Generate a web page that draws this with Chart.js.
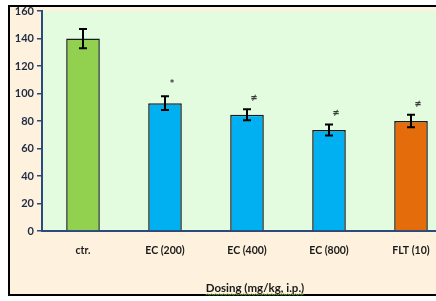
<!DOCTYPE html>
<html><head><meta charset="utf-8">
<script src="https://cdn.jsdelivr.net/npm/chart.js@4/dist/chart.umd.min.js"></script>
<style>html,body{margin:0;padding:0;background:#fff;overflow:hidden;width:436px;height:301px}
#wrap{position:absolute;left:0;top:0;width:460px;height:301px}</style>
</head><body>
<div id="wrap"><canvas id="c" width="460" height="301"></canvas></div>
<script>
const categories = ['ctr.', 'EC (200)', 'EC (400)', 'EC (800)', 'FLT (10)'];
const values = [140, 93, 84.5, 73.5, 80];
const errors = [7, 5, 4, 4, 4.5];
const marks = ['', '*', '≠', '≠', '≠'];
const colors = ['#92D050', '#00B0F0', '#00B0F0', '#00B0F0', '#E46C0A'];
const yTicks = [0, 20, 40, 60, 80, 100, 120, 140, 160];
const xTitle = 'Dosing (mg/kg, i.p.)';

const FONT = 'Lato, "Liberation Sans", sans-serif';

const bgPlugin = {
  id: 'bg',
  beforeDraw(chart) {
    const ctx = chart.ctx, a = chart.chartArea;
    ctx.save();
    ctx.fillStyle = '#FEF1DE';
    ctx.fillRect(9, 6, 460, 289);
    ctx.strokeStyle = '#000';
    ctx.lineWidth = 2;
    ctx.strokeRect(9, 6, 470, 289);
    ctx.fillStyle = '#E3FCDF';
    ctx.fillRect(a.left, a.top, a.right - a.left, a.bottom - a.top);
    ctx.restore();
  },
  afterDatasetsDraw(chart) {
    const ctx = chart.ctx, x = chart.scales.x, y = chart.scales.y;
    ctx.save();
    ctx.strokeStyle = '#000';
    ctx.lineWidth = 2;
    values.forEach((v, i) => {
      const cx = x.getPixelForValue(i);
      const t = y.getPixelForValue(v + errors[i]);
      const b = y.getPixelForValue(v - errors[i]);
      ctx.beginPath();
      ctx.moveTo(cx, t); ctx.lineTo(cx, b);
      ctx.moveTo(cx - 4, t); ctx.lineTo(cx + 4, t);
      ctx.moveTo(cx - 4, b); ctx.lineTo(cx + 4, b);
      ctx.stroke();
      if (marks[i]) {
        ctx.fillStyle = '#3a3a3a';
        ctx.font = 'bold 12px ' + FONT;
        ctx.textAlign = 'center';
        ctx.textBaseline = 'middle';
        ctx.fillText(marks[i], cx + 7, t - 12);
      }
    });
    // x axis title with underline
    ctx.fillStyle = '#1a1a1a';
    ctx.font = 'bold 11.5px ' + FONT;
    ctx.textAlign = 'center';
    ctx.textBaseline = 'middle';
    ctx.fillText(xTitle, 255, 288);
    const w = ctx.measureText(xTitle).width;
    ctx.strokeStyle = '#5aa02c';
    ctx.lineWidth = 1;
    ctx.beginPath();
    for (let px = 255 - w / 2; px < 255 + w / 2; px += 2) {
      ctx.lineTo(px, 294 + ((Math.round(px) % 4) < 2 ? 0 : 1));
    }
    ctx.stroke();
    ctx.restore();
  }
};

new Chart(document.getElementById('c'), {
  type: 'bar',
  data: {
    labels: categories,
    datasets: [{
      data: values,
      backgroundColor: colors,
      borderColor: '#1b1b1b',
      borderWidth: 1.5,
      categoryPercentage: 1,
      barPercentage: 0.41
    }]
  },
  options: {
    responsive: false,
    animation: false,
    events: [],
    layout: { padding: { left: 0, top: 11, right: 8, bottom: 0 } },
    plugins: { legend: { display: false }, tooltip: { enabled: false } },
    scales: {
      x: {
        afterFit(s) { s.height = 70; },
        grid: { display: false },
        border: { display: true, color: '#2C4A7C', width: 2 },
        ticks: { color: '#1a1a1a', font: { family: FONT, size: 10.5, weight: 'bold' }, padding: 5, maxRotation: 0 }
      },
      y: {
        min: 0, max: 160,
        afterFit(s) { s.width = 42; },
        afterBuildTicks(s) { s.ticks = yTicks.map(v => ({ value: v })); },
        grid: { drawOnChartArea: false, color: '#2C4A7C', tickLength: 5, lineWidth: 1.5 },
        border: { display: true, color: '#2C4A7C', width: 2 },
        ticks: { color: '#1F2A44', font: { family: FONT, size: 11, weight: 'bold' }, padding: 3 }
      }
    }
  },
  plugins: [bgPlugin]
});
</script>
</body></html>
